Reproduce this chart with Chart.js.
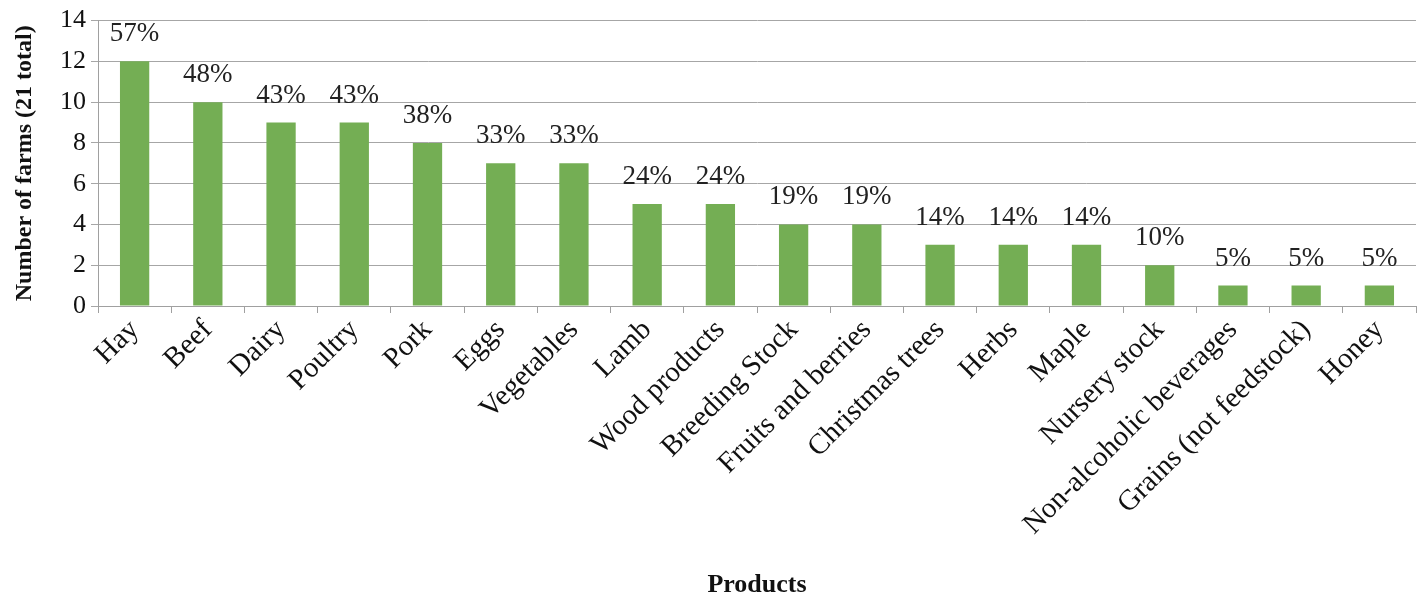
<!DOCTYPE html>
<html>
<head>
<meta charset="utf-8">
<script src="https://cdn.jsdelivr.net/npm/chart.js@4"></script>
<style>
  html, body { margin: 0; padding: 0; background: #fff; }
  #wrap { width: 1424px; height: 598px; }
</style>
</head>
<body>
<div id="wrap"><canvas id="c" width="1424" height="598"></canvas></div>
<script>
const products = ["Hay", "Beef", "Dairy", "Poultry", "Pork", "Eggs", "Vegetables", "Lamb",
  "Wood products", "Breeding Stock", "Fruits and berries", "Christmas trees", "Herbs",
  "Maple", "Nursery stock", "Non-alcoholic beverages", "Grains (not feedstock)", "Honey"];
const farmCounts = [12, 10, 9, 9, 8, 7, 7, 5, 5, 4, 4, 3, 3, 3, 2, 1, 1, 1];
const shareLabels = ["57%", "48%", "43%", "43%", "38%", "33%", "33%", "24%", "24%", "19%",
  "19%", "14%", "14%", "14%", "10%", "5%", "5%", "5%"];
const yTicks = [0, 2, 4, 6, 8, 10, 12, 14];

const serif = "'Liberation Serif', 'DejaVu Serif', serif";

// writes the share of farms above each bar
const shareLabelPlugin = {
  id: 'shareLabels',
  afterDatasetsDraw(chart) {
    const ctx = chart.ctx;
    const meta = chart.getDatasetMeta(0);
    ctx.save();
    ctx.font = "27px " + serif;
    ctx.fillStyle = "#222";
    ctx.textAlign = "center";
    ctx.textBaseline = "alphabetic";
    meta.data.forEach((bar, i) => {
      ctx.fillText(shareLabels[i], bar.x, bar.y - 20);
    });
    ctx.restore();
  }
};

new Chart(document.getElementById('c'), {
  type: 'bar',
  data: {
    labels: products,
    datasets: [{
      data: farmCounts,
      backgroundColor: '#74AE54',
      borderWidth: 0,
      categoryPercentage: 1.0,
      barPercentage: 0.4
    }]
  },
  options: {
    responsive: false,
    animation: false,
    layout: { padding: { left: 0, right: 8, top: 20, bottom: 0 } },
    plugins: {
      legend: { display: false },
      tooltip: { enabled: false }
    },
    scales: {
      x: {
        offset: true,
        grid: {
          display: true,
          offset: true,
          drawOnChartArea: false,
          drawTicks: true,
          tickLength: 7,
          color: '#a0a0a0'
        },
        border: { color: '#a0a0a0', width: 1 },
        ticks: {
          color: '#111',
          font: { family: serif, size: 29 },
          maxRotation: 45,
          minRotation: 45,
          autoSkip: false,
          padding: 0
        },
        title: {
          display: true,
          text: 'Products',
          color: '#111',
          font: { family: serif, size: 26, weight: 'bold' },
          padding: { top: 0, bottom: -3 }
        },
        afterFit(scale) { scale.height = 292; }
      },
      y: {
        min: 0,
        max: 14,
        afterBuildTicks(scale) { scale.ticks = yTicks.map(v => ({ value: v })); },
        grid: {
          color: '#a6a6a6',
          drawTicks: true,
          tickLength: 7
        },
        border: { color: '#a0a0a0', width: 1 },
        ticks: {
          color: '#111',
          font: { family: serif, size: 26 },
          padding: 5
        },
        title: {
          display: true,
          text: 'Number of farms (21 total)',
          color: '#111',
          font: { family: serif, size: 24, weight: 'bold' },
          padding: { top: 10, bottom: 0 }
        },
        afterFit(scale) { scale.width = 98; }
      }
    }
  },
  plugins: [shareLabelPlugin]
});
</script>
</body>
</html>
